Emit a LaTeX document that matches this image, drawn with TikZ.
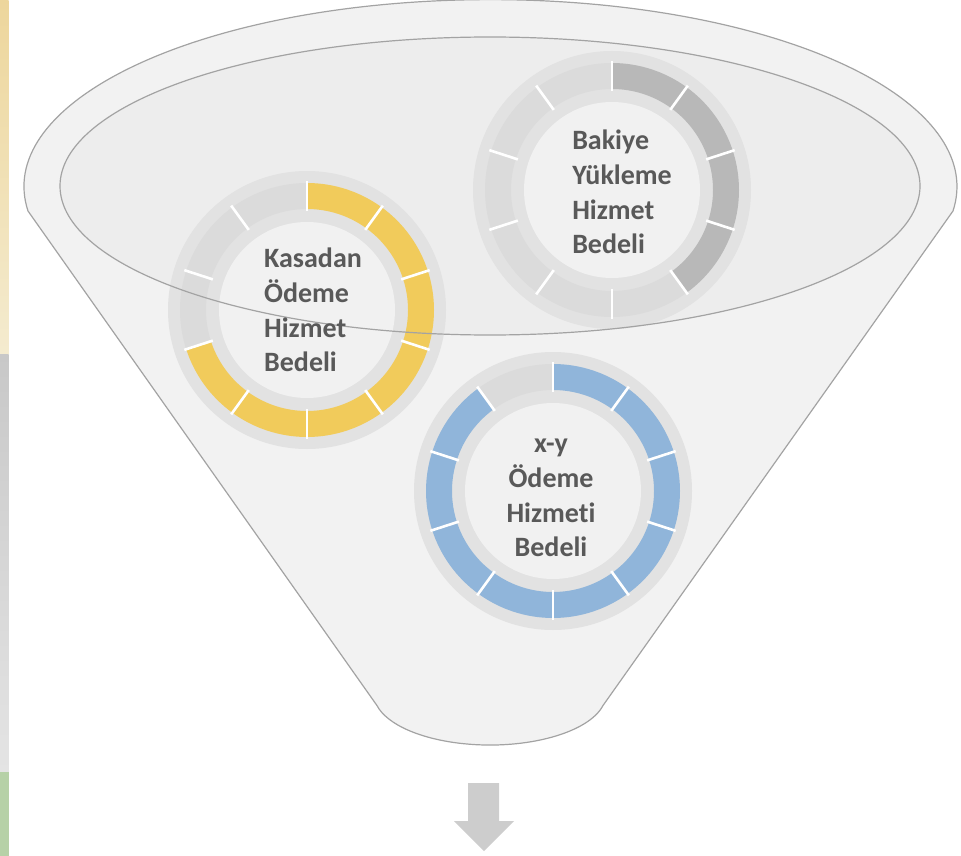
\documentclass[tikz,border=0pt]{standalone}
\usepackage{fontspec}
\setmainfont{Carlito}[Ligatures={NoCommon}]
\definecolor{funnelfill}{HTML}{F2F2F2}
\definecolor{innerfill}{HTML}{EDEDED}
\definecolor{edgegray}{HTML}{A3A3A3}
\definecolor{bandgray}{HTML}{E2E2E2}
\definecolor{centergray}{HTML}{F1F1F1}
\definecolor{segyellow}{HTML}{F1CB5B}
\definecolor{segblue}{HTML}{90B5DA}
\definecolor{segdark}{HTML}{B8B8B8}
\definecolor{seglight}{HTML}{DBDBDB}
\definecolor{txtgray}{HTML}{595959}
\definecolor{arrowgray}{HTML}{CDCDCD}
\definecolor{stripY1}{HTML}{EDD69C}
\definecolor{stripY2}{HTML}{F4EBCF}
\definecolor{stripG1}{HTML}{C8C8C8}
\definecolor{stripG2}{HTML}{E4E4E4}
\definecolor{stripGreen}{HTML}{B6D1A7}
\tikzset{
  funnelshape/.style={fill=funnelfill, draw=edgegray, line width=1.2pt, line join=round},
  innerellipse/.style={draw=edgegray, line width=1.2pt},
  ringband/.style={fill=bandgray},
  centerdisk/.style={fill=centergray},
  sepline/.style={draw=white, line width=2.6pt},
  lbl/.style={text=txtgray, inner sep=0pt, font=\fontsize{28}{34.7}\selectfont\bfseries},
}
\newcommand\myring[2]{%
  \fill[ringband] (#1) circle (139);
  \foreach \c [count=\i from 0] in {#2} {
    \pgfmathsetmacro\aone{36*\i-90}
    \pgfmathsetmacro\atwo{36*\i-54}
    \fill[\c] ([shift={(\aone:127)}]#1) arc[start angle=\aone, end angle=\atwo, radius=127]
      -- ([shift={(\atwo:101)}]#1) arc[start angle=\atwo, end angle=\aone, radius=101] -- cycle;
  }
  \foreach \i in {0,...,9} {
    \draw[sepline] ([shift={(36*\i-90:99)}]#1) -- ([shift={(36*\i-90:129)}]#1);
  }
  \fill[centerdisk] (#1) circle (88);
}
\begin{document}
\begin{tikzpicture}[x=1pt,y=-1pt]
\useasboundingbox (0,0) rectangle (961,856);
% left strip
\shade[top color=stripY1, bottom color=stripY2] (0,0) rectangle (8.5,354);
\shade[top color=stripG1, bottom color=stripG2] (0,354) rectangle (8.5,772);
\fill[stripGreen] (0,772) rectangle (8.5,856);
% funnel
\draw[funnelshape] (28,211) arc[start angle=172.5, end angle=367.5, x radius=466.5, y radius=187]
  -- (603,705.5) arc[start angle=13, end angle=167, x radius=116, y radius=51] -- cycle;
\fill[innerfill] (490,186) ellipse[x radius=430, y radius=149];
% rings
\coordinate (ringA) at (307,310);
\coordinate (ringB) at (553,491);
\coordinate (ringC) at (612,190);
\myring{ringC}{segdark,segdark,segdark,segdark,seglight,seglight,seglight,seglight,seglight,seglight}
\myring{ringA}{segyellow,segyellow,segyellow,segyellow,segyellow,segyellow,segyellow,seglight,seglight,seglight}
\myring{ringB}{segblue,segblue,segblue,segblue,segblue,segblue,segblue,segblue,segblue,seglight}
\draw[innerellipse] (490,186) ellipse[x radius=430, y radius=149];
% labels
\node[lbl, align=left] (tA) at (313,310) {Kasadan\\Ödeme\\Hizmet\\Bedeli};
\node[lbl, align=left] (tC) at (622,192) {Bakiye\\Yükleme\\Hizmet\\Bedeli};
\node[lbl, align=center] (tB) at (551,498) {x-y\\Ödeme\\Hizmeti\\Bedeli};
% arrow
\fill[arrowgray] (468,783) -- (499,783) -- (499,821) -- (514,821) -- (484,851) -- (454,821) -- (468,821) -- cycle;
\end{tikzpicture}
\end{document}
